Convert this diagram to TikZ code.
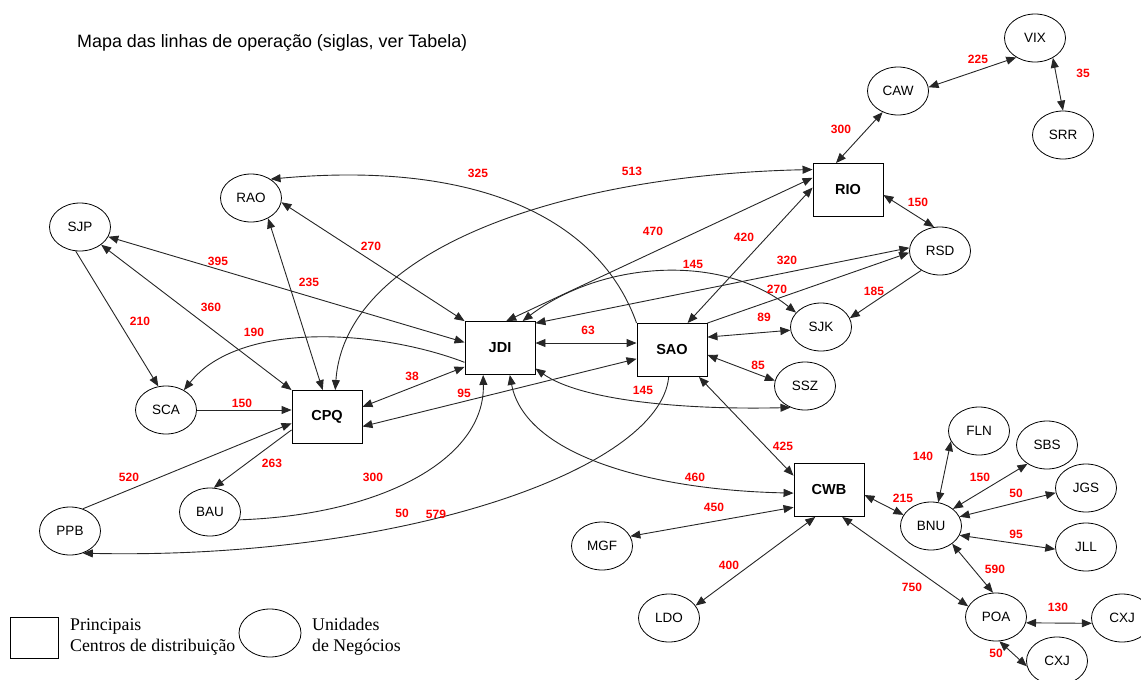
\documentclass[tikz,border=0pt]{standalone}
\usepackage{fontspec}
\setmainfont{Liberation Serif}
\newfontfamily\arialfont{Liberation Sans}
\usetikzlibrary{shapes.geometric,arrows.meta}

\begin{document}
\begin{tikzpicture}[x=1pt, y=-1pt, >={Triangle[length=10pt,width=8pt]},
  block/.style={draw, line width=0.9pt, minimum width=70pt, minimum height=53pt, inner sep=0pt, font=\arialfont\bfseries\fontsize{14.5}{16}\selectfont},
  unit/.style={draw, ellipse, line width=0.8pt, minimum width=61pt, minimum height=48pt, inner sep=0pt, font=\arialfont\fontsize{13.5}{16}\selectfont},
  dist/.style={text=red, inner sep=0pt, font=\arialfont\bfseries\fontsize{12}{14}\selectfont},
  line/.style={line width=0.9pt, draw=black!85}]

  \useasboundingbox (0,0) rectangle (1141,680);

  % Title
  \node[anchor=west, inner sep=0pt, font=\arialfont\fontsize{17.9}{20}\selectfont] (title) at (77,43) {Mapa das linhas de operação (siglas, ver Tabela)};

  % Distribution centres
  \node[block] (RIO) at (848,190) {RIO};
  \node[block] (JDI) at (500,348) {JDI};
  \node[block] (SAO) at (672,350) {SAO};
  \node[block] (CPQ) at (327,417) {CPQ};
  \node[block] (CWB) at (829,490) {CWB};

  % Business units
  \node[unit] (VIX) at (1035,38) {VIX};
  \node[unit] (CAW) at (898,91) {CAW};
  \node[unit] (SRR) at (1063,135) {SRR};
  \node[unit] (RSD) at (940,251) {RSD};
  \node[unit] (SJK) at (821,327) {SJK};
  \node[unit] (SSZ) at (805,386) {SSZ};
  \node[unit] (RAO) at (251,198) {RAO};
  \node[unit] (SJP) at (80,227) {SJP};
  \node[unit] (SCA) at (166,410) {SCA};
  \node[unit] (BAU) at (210,512) {BAU};
  \node[unit] (PPB) at (70,531) {PPB};
  \node[unit] (MGF) at (602,546) {MGF};
  \node[unit] (LDO) at (669,618) {LDO};
  \node[unit] (FLN) at (979,431) {FLN};
  \node[unit] (SBS) at (1047,445) {SBS};
  \node[unit] (JGS) at (1086,488) {JGS};
  \node[unit] (JLL) at (1086,547) {JLL};
  \node[unit] (BNU) at (931,526) {BNU};
  \node[unit] (POA) at (996,617) {POA};
  \node[unit] (CXJa) at (1122,618) {CXJ};
  \node[unit] (CXJb) at (1057,661) {CXJ};

  % Legend
  \node[draw, line width=0.9pt, minimum width=48pt, minimum height=41pt, inner sep=0pt] (keybox) at (34,637.5) {};
  \node[anchor=west, inner sep=0pt, align=left, font=\fontsize{17.8}{21}\selectfont] (keyboxtext) at (70,637) {Principais\\Centros de distribuição};
  \node[draw, ellipse, line width=0.8pt, minimum width=62pt, minimum height=48pt, inner sep=0pt] (keyunit) at (270,633) {};
  \node[anchor=west, inner sep=0pt, align=left, font=\fontsize{17.8}{21}\selectfont] (keyunittext) at (312,637) {Unidades\\de Negócios};

  % North-east lines
  \draw[line, <->] (CAW.234) -- (RIO.114);
  \draw[line, <->] (CAW.7) -- (VIX.226);
  \draw[line, <->] (VIX.-48) -- (SRR.90);
  \draw[line, <->] (RIO.-8) -- (RSD.104);
  \draw[line, ->] (RSD.226) -- (SJK.17);

  % Long lines and curves
  \draw[line, <->] (CPQ.73) .. controls (345,250) and (560,175) .. (RIO.150);
  \draw[line, ->] (SAO.north west) .. controls (600,220) and (480,160) .. (RAO.44);
  \draw[line, <->] (RIO.161) -- (JDI.77);
  \draw[line, <->] (RIO.176) -- (SAO.60);
  \draw[line, <->] (JDI.50) .. controls (600,262) and (720,252) .. (SJK.150);
  \draw[line, <->] (JDI.35) -- (RSD.174);
  \draw[line, ->] (SAO.north east) -- (RSD.183);
  \draw[line, <->] (SAO.20) -- (SJK.186);
  \draw[line, <->] (SAO.-8) -- (SSZ.170);
  \draw[line, <->] (JDI.-30) .. controls (580,400) and (680,410) .. (SSZ.236);
  \draw[line, <->] (SAO.-45) -- (CWB.158);
  \draw[line, <->] (JDI.-70) .. controls (525,455) and (650,490) .. (CWB.185);
  \draw[line, <->] (JDI.8) -- (JDI.8 -| SAO.west);
  \draw[line, <->] (SAO.194) -- (CPQ.-15);
  \draw[line, <->] (JDI.208) -- (CPQ.16);
  \draw[line, ->] (BAU.-15) .. controls (380,515) and (485,460) .. (JDI.-122);
  \draw[line, ->] (SAO.-97) .. controls (660,470) and (400,560) .. (PPB.-60);

  % West lines
  \draw[line, ->] (PPB.60) -- (CPQ.190);
  \draw[line, ->] (CPQ.200) -- (BAU.81);
  \draw[line, ->] (SCA.east) -- (SCA.east -| CPQ.west);
  \draw[line, ->] (SJP.-100) -- (SCA.108);
  \draw[line, <->] (SJP.-40) -- (CPQ.north west);
  \draw[line, <->] (SJP.-19) -- (JDI.171);
  \draw[line, <->] (RAO.-50) -- (CPQ.99);
  \draw[line, <->] (RAO.-8) -- (JDI.north west);
  \draw[line, ->] (JDI.202) .. controls (380,330) and (240,320) .. (SCA.48);

  % South lines
  \draw[line, <->] (CWB.206) -- (MGF.19);
  \draw[line, <->] (CWB.-117) -- (LDO.25);
  \draw[line, <->] (CWB.-64) -- (POA.159);
  \draw[line, <->] (CWB.-8) -- (BNU.158);
  \draw[line, <->] (BNU.73) -- (FLN.200);
  \draw[line, <->] (BNU.38) -- (SBS.224);
  \draw[line, <->] (BNU.18) -- (JGS.189);
  \draw[line, <->] (BNU.-18) -- (JLL.184);
  \draw[line, <->] (BNU.-40) -- (POA.97);
  \draw[line, <->] (POA.-11) -- (CXJa.190);
  \draw[line, <->] (POA.-82) -- (CXJb.190);

  % Distances
  \node[dist] (d325) at (478,173) {325};
  \node[dist] (d513) at (632,171) {513};
  \node[dist] (d270a) at (371,246) {270};
  \node[dist] (d395) at (218,261) {395};
  \node[dist] (d235) at (309,282) {235};
  \node[dist] (d470) at (653,231) {470};
  \node[dist] (d420) at (744,237) {420};
  \node[dist] (d145a) at (693,264) {145};
  \node[dist] (d320) at (787,260) {320};
  \node[dist] (d270b) at (777,289) {270};
  \node[dist] (d185) at (874,291) {185};
  \node[dist] (d89) at (764,317) {89};
  \node[dist] (d63) at (588,330) {63};
  \node[dist] (d85) at (758,365) {85};
  \node[dist] (d145b) at (643,390) {145};
  \node[dist] (d38) at (412,376) {38};
  \node[dist] (d95a) at (464,393) {95};
  \node[dist] (d190) at (254,332) {190};
  \node[dist] (d360) at (211,307) {360};
  \node[dist] (d210) at (140,321) {210};
  \node[dist] (d150a) at (242,403) {150};
  \node[dist] (d300a) at (841,129) {300};
  \node[dist] (d225) at (978,59) {225};
  \node[dist] (d35) at (1083,73) {35};
  \node[dist] (d150b) at (918,202) {150};
  \node[dist] (d425) at (783,446) {425};
  \node[dist] (d460) at (695,477) {460};
  \node[dist] (d450) at (714,507) {450};
  \node[dist] (d400) at (729,565) {400};
  \node[dist] (d750) at (912,587) {750};
  \node[dist] (d140) at (923,456) {140};
  \node[dist] (d150c) at (980,477) {150};
  \node[dist] (d50a) at (1016,493) {50};
  \node[dist] (d215) at (903,498) {215};
  \node[dist] (d95b) at (1016,534) {95};
  \node[dist] (d590) at (995,569) {590};
  \node[dist] (d130) at (1058,607) {130};
  \node[dist] (d50b) at (996,653) {50};
  \node[dist] (d520) at (129,477) {520};
  \node[dist] (d263) at (272,463) {263};
  \node[dist] (d300b) at (373,477) {300};
  \node[dist] (d50c) at (402,513) {50};
  \node[dist] (d579) at (436,514) {579};

\end{tikzpicture}
\end{document}
